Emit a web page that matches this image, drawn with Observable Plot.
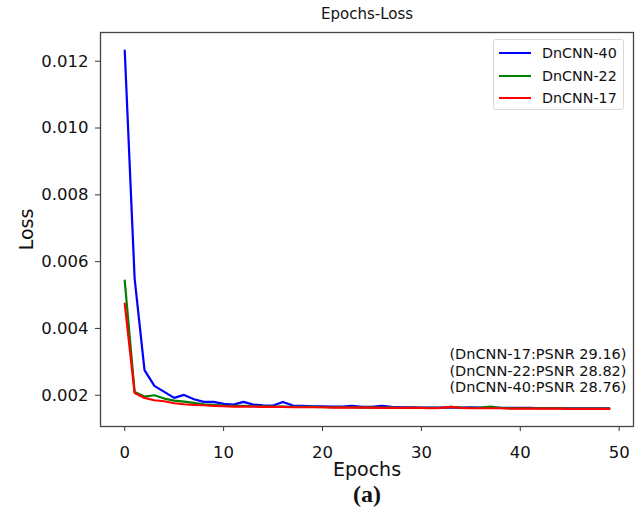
<!DOCTYPE html>
<html>
<head>
<meta charset="utf-8">
<script src="https://cdn.jsdelivr.net/npm/d3@7"></script>
<script src="https://cdn.jsdelivr.net/npm/@observablehq/plot@0.6"></script>
<style>
  html, body { margin: 0; padding: 0; background: #fff; }
  #wrap { position: relative; width: 640px; height: 513px; font-family: "DejaVu Sans", sans-serif; }
  #legend { position: absolute; left: 493px; top: 39px; width: 131px; height: 71px; box-sizing: border-box;
    border: 1px solid #d9d9d9; border-radius: 3px; background: rgba(255,255,255,0.8);
    font-size: 14.3px; color: #111; }
  .row { position: absolute; left: 0; height: 20px; width: 100%; }
  .sw { position: absolute; left: 5px; top: 9px; width: 32px; height: 2px; }
  .lb { position: absolute; left: 48px; top: 0px; white-space: nowrap; line-height: 20px; }
</style>
</head>
<body>
<div id="wrap"></div>
<script>
const seriesNames = ["DnCNN-40", "DnCNN-22", "DnCNN-17"];
const seriesColors = ["#0000ff", "#008000", "#ff0000"];

const loss40 = [0.01232, 0.0055, 0.00275, 0.00228, 0.0021, 0.00192, 0.00201, 0.00188, 0.0018, 0.0018,
  0.00174, 0.00172, 0.0018, 0.00172, 0.0017, 0.00169, 0.0018, 0.00169, 0.00168, 0.00167,
  0.00167, 0.00166, 0.00166, 0.00168, 0.00165, 0.00165, 0.00168, 0.00165, 0.00164, 0.00164,
  0.00163, 0.00163, 0.00163, 0.00163, 0.00163, 0.00164, 0.00163, 0.00162, 0.00162, 0.00162,
  0.00162, 0.00162, 0.00161, 0.00161, 0.00161, 0.00161, 0.00161, 0.00161, 0.00161, 0.00161];
const loss22 = [0.00543, 0.0021, 0.00196, 0.002, 0.0019, 0.00184, 0.00181, 0.00177, 0.00173, 0.00171,
  0.00169, 0.00168, 0.00168, 0.00167, 0.00167, 0.00166, 0.00166, 0.00165, 0.00165, 0.00165,
  0.00164, 0.00164, 0.00164, 0.00164, 0.00163, 0.00163, 0.00163, 0.00163, 0.00162, 0.00163,
  0.00162, 0.00162, 0.00162, 0.00165, 0.00163, 0.00162, 0.00163, 0.00166, 0.00162, 0.00161,
  0.00161, 0.00161, 0.00161, 0.00161, 0.00161, 0.00160, 0.00160, 0.00160, 0.00160, 0.00160];
const loss17 = [0.00474, 0.00207, 0.00192, 0.00185, 0.00182, 0.00176, 0.00173, 0.00171, 0.0017, 0.00168,
  0.00167, 0.00166, 0.00166, 0.00166, 0.00165, 0.00165, 0.00165, 0.00164, 0.00164, 0.00164,
  0.00164, 0.00163, 0.00163, 0.00163, 0.00163, 0.00163, 0.00162, 0.00162, 0.00162, 0.00162,
  0.00162, 0.00161, 0.00162, 0.00165, 0.00162, 0.00161, 0.00161, 0.00161, 0.00161, 0.00160,
  0.00160, 0.00160, 0.00160, 0.00160, 0.00160, 0.00159, 0.00159, 0.00159, 0.00159, 0.00159];

const xTicks = [0, 10, 20, 30, 40, 50];
const yTicks = [0.002, 0.004, 0.006, 0.008, 0.010, 0.012];
const notes = ["(DnCNN-17:PSNR 29.16)", "(DnCNN-22:PSNR 28.82)", "(DnCNN-40:PSNR 28.76)"];
const titleText = "Epochs-Loss";
const xLabel = "Epochs";
const yLabel = "Loss";
const caption = "(a)";

const allSeries = [loss40, loss22, loss17];
const data = [];
allSeries.forEach((vals, s) => vals.forEach((v, i) => data.push({epoch: i, loss: v, name: seriesNames[s]})));

const chart = Plot.plot({
  width: 640,
  height: 513,
  marginLeft: 100,
  marginRight: 7,
  marginTop: 32,
  marginBottom: 87,
  style: {fontFamily: "DejaVu Sans, sans-serif", background: "#fff", overflow: "visible"},
  x: {domain: [-2.45, 51.45], label: null},
  y: {domain: [0.001064, 0.01286], label: null},
  color: {domain: seriesNames, range: seriesColors},
  marks: [
    Plot.axisX({ticks: xTicks, tickSize: 5, tickPadding: 15, fontSize: 16.5, stroke: "#333", fill: "#111", tickFormat: d3.format("d")}),
    Plot.axisY({ticks: yTicks, tickSize: 5, tickPadding: 7, fontSize: 16.5, stroke: "#333", fill: "#111", tickFormat: d3.format(".3f")}),
    Plot.line(data, {x: "epoch", y: "loss", z: "name", stroke: "name", strokeWidth: 2.2}),
    Plot.frame({stroke: "#444", strokeWidth: 1.3}),
    ...notes.map((t, i) => Plot.text([t], {text: d => d, frameAnchor: "bottom-right", textAnchor: "end", lineAnchor: "middle", dx: -7, dy: -72 + i * 16.5, fontSize: 14.5, fill: "#111"})),
    Plot.text([titleText], {text: d => d, frameAnchor: "top", lineAnchor: "middle", dy: -18, fontSize: 15, fill: "#111"}),
    Plot.text([xLabel], {text: d => d, frameAnchor: "bottom", lineAnchor: "middle", dy: 43, fontSize: 19, fill: "#111"}),
    Plot.text([yLabel], {text: d => d, frameAnchor: "left", textAnchor: "middle", lineAnchor: "middle", rotate: -90, dx: -74, fontSize: 19, fill: "#111"}),
    Plot.text([caption], {text: d => d, frameAnchor: "bottom", lineAnchor: "middle", dy: 68, fontSize: 24, fontWeight: "bold", fontFamily: "Liberation Serif, serif", fill: "#111"})
  ]
});

const wrap = document.getElementById("wrap");
wrap.appendChild(chart);

// legend overlay
const legend = document.createElement("div");
legend.id = "legend";
seriesNames.forEach((n, i) => {
  const row = document.createElement("div");
  row.className = "row";
  row.style.top = (3 + i * 22.5) + "px";
  const sw = document.createElement("div");
  sw.className = "sw";
  sw.style.background = seriesColors[i];
  const lb = document.createElement("div");
  lb.className = "lb";
  lb.textContent = n;
  row.appendChild(sw);
  row.appendChild(lb);
  legend.appendChild(row);
});
wrap.appendChild(legend);
</script>
</body>
</html>
